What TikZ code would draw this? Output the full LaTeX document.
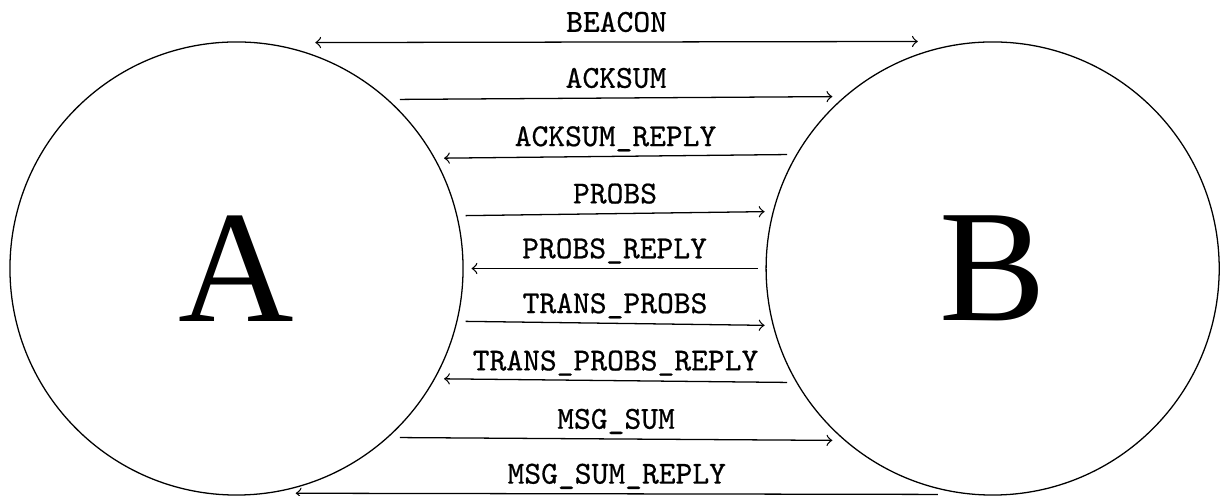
\documentclass[tikz,border=0pt]{standalone}
\usepackage{fontspec}
\newfontfamily\letterfont{Liberation Serif}
\newfontfamily\msgfont[FakeBold=0.6]{Latin Modern Mono}
\usetikzlibrary{positioning}

\begin{document}
\begin{tikzpicture}[x=0.3125pt, y=0.3125pt,
                    peer/.style={circle, draw, minimum size=141.6pt, inner sep=0pt,
                                 outer sep=2.65pt, font=\letterfont\fontsize{50}{60}\selectfont},
                    msg/.style={above=3pt, inner sep=0pt, text depth=0pt, font=\msgfont}]
    \useasboundingbox (0,0) rectangle (1220,496);
    \node (A) [peer] at (236.5,227.5)   {A};
    \node (B) [peer, right = 89.4pt of A] {B};

    % messages between the two peers
    \draw[<->] ([shift={(14,0)}]A.74.5) -- node[msg] {BEACON} ([shift={(-14,0)}]B.105.5);
    \draw[->]  (A.46.3)   -- node[msg] {ACKSUM}             (B.133.7);
    \draw[->]  (B.151.4)  -- node[msg] {ACKSUM\_REPLY}      (A.28.6);
    \draw[->]  (A.13.9)   -- node[msg] {PROBS}              (B.166.1);
    \draw[->]  (B.180)    -- node[msg] {PROBS\_REPLY}       (A.0);
    \draw[->]  (A.-13.9)  -- node[msg] {TRANS\_PROBS}       (B.-166.1);
    \draw[->]  (B.-151.4) -- node[msg] {TRANS\_PROBS\_REPLY} (A.-28.6);
    \draw[->]  (A.-46.3)  -- node[msg] {MSG\_SUM}           (B.-133.7);
    \draw[->]  ([shift={(10,0)}]B.-106.3) -- node[msg] {MSG\_SUM\_REPLY} ([shift={(-9.5,0)}]A.-73.7);
\end{tikzpicture}
\end{document}
